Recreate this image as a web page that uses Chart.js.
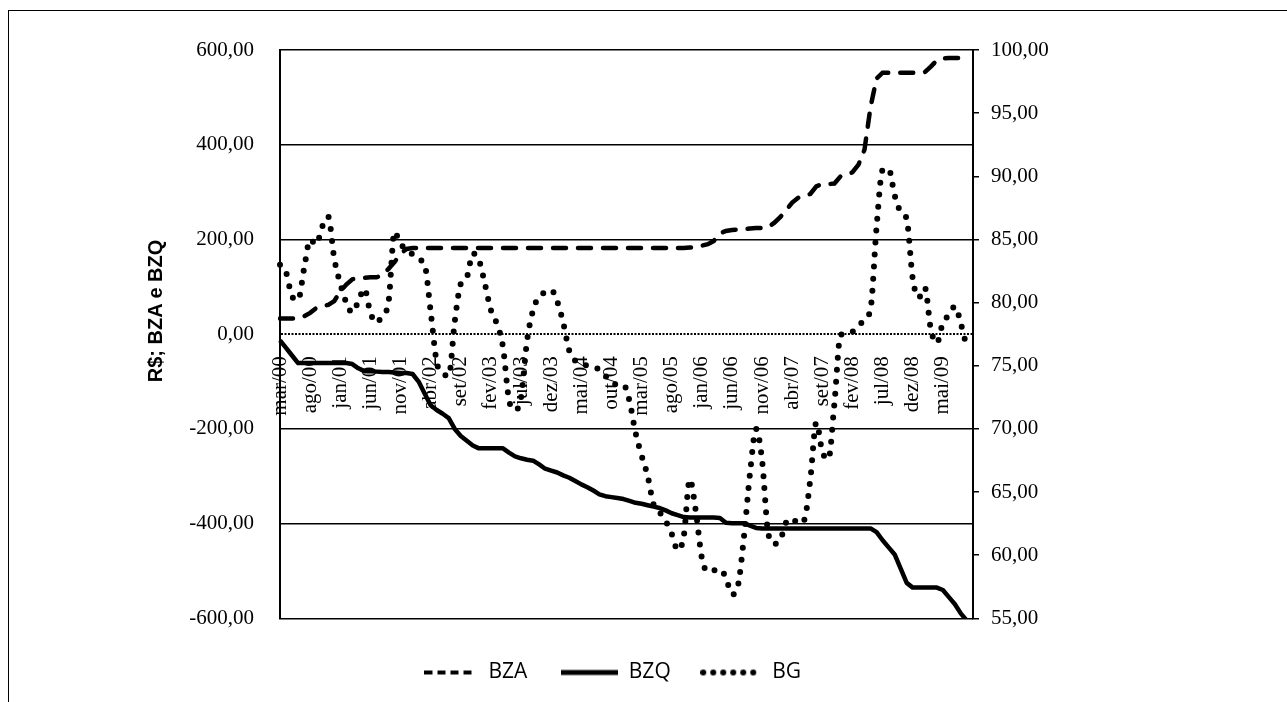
<!DOCTYPE html>
<html>
<head>
<meta charset="utf-8">
<script src="https://cdn.jsdelivr.net/npm/chart.js@4.4.1/dist/chart.umd.min.js"></script>
<style>
    html, body { margin: 0; padding: 0; background: #fff; overflow: hidden; }
    #frame { position: absolute; left: 8px; top: 10px; width: 1400px; height: 800px;
             border-left: 1.5px solid #000; border-top: 1.5px solid #000; }
    #wrap { position: absolute; left: 0; top: 0; width: 1287px; height: 702px; }
    #yTitle { position: absolute; left: 5px; top: 298px; width: 300px; text-align: center;
              font: bold 20px "Liberation Sans", Arial, sans-serif; color: #000;
              transform: rotate(-90deg); transform-origin: 150px 13px; line-height: 26px; }
</style>
</head>
<body>
<div id="frame"></div>
<div id="wrap"><canvas id="bzChart" width="1287" height="702"></canvas></div>
<div id="yTitle">R$; BZA e BZQ</div>
<script>
// meses mar/00 .. out/09
const months = [
    'mar/00','abr/00','mai/00','jun/00','jul/00','ago/00','set/00','out/00','nov/00','dez/00',
    'jan/01','fev/01','mar/01','abr/01','mai/01','jun/01','jul/01','ago/01','set/01','out/01','nov/01','dez/01',
    'jan/02','fev/02','mar/02','abr/02','mai/02','jun/02','jul/02','ago/02','set/02','out/02','nov/02','dez/02',
    'jan/03','fev/03','mar/03','abr/03','mai/03','jun/03','jul/03','ago/03','set/03','out/03','nov/03','dez/03',
    'jan/04','fev/04','mar/04','abr/04','mai/04','jun/04','jul/04','ago/04','set/04','out/04','nov/04','dez/04',
    'jan/05','fev/05','mar/05','abr/05','mai/05','jun/05','jul/05','ago/05','set/05','out/05','nov/05','dez/05',
    'jan/06','fev/06','mar/06','abr/06','mai/06','jun/06','jul/06','ago/06','set/06','out/06','nov/06','dez/06',
    'jan/07','fev/07','mar/07','abr/07','mai/07','jun/07','jul/07','ago/07','set/07','out/07','nov/07','dez/07',
    'jan/08','fev/08','mar/08','abr/08','mai/08','jun/08','jul/08','ago/08','set/08','out/08','nov/08','dez/08',
    'jan/09','fev/09','mar/09','abr/09','mai/09','jun/09','jul/09','ago/09','set/09','out/09'
];

// BZA (eixo esquerdo)
const bza = [
    33, 33, 33, 34, 38, 45, 55, 59, 62, 70,
    90, 105, 116, 118, 119, 120, 120, 125, 138, 152,
    170, 180, 182, 182, 182, 182, 182, 182, 182, 182,
    182, 182, 182, 182, 182, 182, 182, 182, 182, 182,
    182, 182, 182, 182, 182, 182, 182, 182, 182, 182,
    182, 182, 182, 182, 182, 182, 182, 182, 182, 182,
    182, 182, 182, 182, 182, 182, 182, 182, 183, 184,
    187, 190, 197, 213, 218, 220, 221, 222, 223, 224,
    224, 226, 235, 247, 262, 278, 288, 293, 296, 312,
    317, 317, 318, 333, 337, 342, 358, 390, 480, 540,
    552, 552, 552, 552, 552, 552, 552, 553, 565, 578,
    582, 583, 583, 583, 583, null
];

// BZQ (eixo esquerdo)
const bzq = [
    -13, -29, -45, -61, -61, -61, -61, -61, -61, -61,
    -61, -61, -63, -72, -78, -78, -79, -80, -80, -81,
    -82, -82, -84, -100, -125, -150, -160, -168, -177, -200,
    -215, -225, -235, -241, -241, -241, -241, -241, -250, -258,
    -262, -265, -267, -275, -284, -288, -292, -298, -303, -310,
    -317, -323, -330, -338, -342, -344, -346, -348, -352, -356,
    -358, -361, -364, -367, -372, -378, -382, -386, -387, -387,
    -387, -387, -387, -388, -398, -399, -399, -399, -404, -409,
    -410, -410, -410, -410, -410, -410, -410, -410, -410, -410,
    -410, -410, -410, -410, -410, -410, -410, -410, -410, -418,
    -435, -450, -465, -495, -525, -535, -535, -535, -535, -535,
    -540, -555, -570, -590, -605, null
];

// BG (eixo direito)
const bg = [
    83.0, 82.4, 80.5, 80.2, 82.7, 85.0, 84.6, 86.0, 86.8, 83.5,
    81.5, 80.0, 79.2, 80.1, 81.1, 79.2, 78.4, 79.0, 80.0, 85.6,
    84.6, 84.3, 83.8, 83.4, 83.0, 79.3, 75.3, 74.4, 74.2, 78.5,
    81.5, 82.0, 83.9, 83.4, 81.5, 79.4, 78.3, 76.5, 72.3, 71.5,
    72.5, 77.0, 79.4, 80.5, 80.8, 81.0, 80.1, 78.4, 76.2, 75.4,
    75.2, 75.0, 74.9, 74.7, 74.2, 73.7, 73.5, 73.5, 72.2, 69.7,
    67.9, 66.3, 64.0, 63.4, 62.7, 61.7, 60.4, 61.5, 66.0, 63.5,
    59.8, 58.7, 58.8, 58.9, 58.2, 56.9, 57.6, 61.5, 66.5, 70.0,
    67.5, 61.8, 60.9, 61.2, 62.6, 62.9, 62.5, 62.8, 66.0, 70.5,
    68.2, 67.6, 72.0, 77.4, 77.6, 77.7, 78.1, 78.7, 79.5, 86.0,
    90.5, 90.6, 88.5, 87.2, 86.6, 81.9, 80.4, 81.2, 77.9, 76.8,
    78.4, 79.0, 79.7, 78.3, 76.4, null
];

// eixos
const leftTicks = { min: -600, max: 600, step: 200 };
const rightTicks = { min: 55, max: 100, step: 5 };
const labelEvery = 5;

const fmt = (v) => v.toFixed(2).replace('.', ',');
const serif = { family: '"Liberation Serif", "Times New Roman", serif', size: 21 };

// small line samples for the legend (dashed / solid / dotted)
function makeSample(w, dash, lineWidth, cap) {
    const c = document.createElement('canvas');
    c.width = w; c.height = 12;
    const g = c.getContext('2d');
    g.strokeStyle = '#000';
    g.lineWidth = lineWidth;
    g.lineCap = cap;
    g.setLineDash(dash);
    const s = cap === 'round' ? lineWidth / 2 : 0;
    g.beginPath();
    g.moveTo(s, 6);
    g.lineTo(w - s, 6);
    g.stroke();
    return c;
}

const ctx = document.getElementById('bzChart').getContext('2d');
const bzChart = new Chart(ctx, {
    type: 'line',
    data: {
        labels: months,
        datasets: [
            { label: 'BZA', data: bza, yAxisID: 'y', borderColor: '#000', borderWidth: 4.5,
              borderDash: [13, 12], borderCapStyle: 'round', pointRadius: 0, tension: 0,
              pointStyle: makeSample(50, [8, 5], 4, 'butt') },
            { label: 'BZQ', data: bzq, yAxisID: 'y', borderColor: '#000', borderWidth: 4.5,
              borderJoinStyle: 'round', pointRadius: 0, tension: 0,
              pointStyle: makeSample(57, [], 5, 'butt') },
            { label: 'BG', data: bg, yAxisID: 'y1', borderColor: '#000', borderWidth: 6,
              borderDash: [0, 12], borderCapStyle: 'round', pointRadius: 0,
              cubicInterpolationMode: 'monotone',
              pointStyle: makeSample(66, [0, 10], 6, 'round') },
        ],
    },
    options: {
        responsive: false,
        animation: false,
        layout: { padding: { left: 0, right: 65, top: 50, bottom: 9 } },
        plugins: {
            legend: {
                position: 'bottom',
                title: { display: true, text: '', font: { size: 8 }, padding: 0 },
                labels: {
                    usePointStyle: true, pointStyleWidth: 57,
                    padding: 34, color: '#000',
                    font: { family: '"Open Sans", sans-serif', size: 21 },
                },
            },
            tooltip: { enabled: false },
        },
        scales: {
            x: {
                type: 'category',
                position: { y: 0 },
                offset: false,
                grid: { display: false, drawTicks: false },
                border: { display: false },
                ticks: {
                    autoSkip: false, minRotation: 90, maxRotation: 90, padding: 22,
                    color: '#000', font: serif,
                    callback: function (val, index) {
                        return index % labelEvery === 0 && index < months.length - 1 ? this.getLabelForValue(val) : '';
                    },
                },
                afterFit: (scale) => { scale.height = 0; },
            },
            y: {
                position: 'left',
                min: leftTicks.min, max: leftTicks.max,
                grid: {
                    drawTicks: false, color: '#000',
                    lineWidth: (c) => (c.tick && c.tick.value === 0 ? 2 : 1.4),
                },
                border: {
                    display: true, color: '#000', width: 2,
                    dash: (c) => (c.tick && c.tick.value === 0 ? [2, 1.5] : []),
                },
                ticks: { stepSize: leftTicks.step, padding: 26, color: '#000', font: serif, callback: (v) => fmt(v) },
                afterFit: (scale) => { scale.width = 280; },
            },
            y1: {
                position: 'right',
                min: rightTicks.min, max: rightTicks.max,
                grid: { drawOnChartArea: false, drawTicks: true, tickLength: 6, color: '#000', lineWidth: 1.5 },
                border: { display: true, color: '#000', width: 2 },
                ticks: { stepSize: rightTicks.step, padding: 12, color: '#000', font: serif, callback: (v) => fmt(v) },
                afterFit: (scale) => { scale.width = 249; },
            },
        },
    },
});
</script>
</body>
</html>
